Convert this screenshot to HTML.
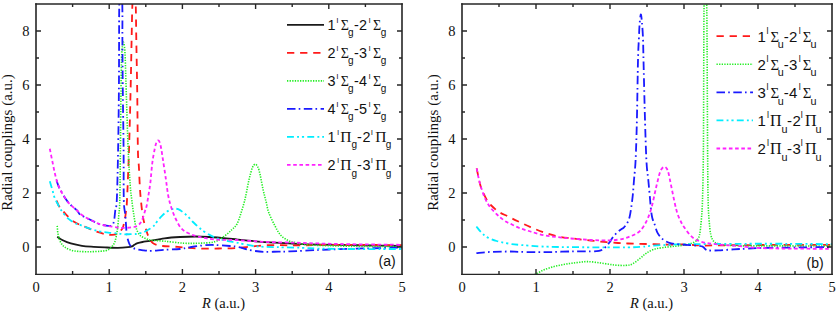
<!DOCTYPE html><html><head><meta charset="utf-8"><style>
html,body{margin:0;padding:0;background:#fff;width:838px;height:312px;overflow:hidden}
svg{display:block}
.tl{font-family:"Liberation Serif",serif;font-size:14.5px;fill:#111}
.al{font-family:"Liberation Serif",serif;font-size:14.5px;fill:#111}
.yl{font-family:"Liberation Serif",serif;font-size:15px;fill:#111}
.lg{font-family:"Liberation Sans",sans-serif;font-size:14.4px;fill:#111}
.sp{font-size:8px}.sb{font-size:10px}.gr{font-family:"Liberation Serif",serif;font-size:14px}.gp{font-family:"Liberation Serif",serif;font-size:15.5px}
.lgB{font-family:"Liberation Sans",sans-serif;font-size:15px;fill:#111}.spB{font-size:9px}.sbB{font-size:10.8px}.grB{font-family:"Liberation Serif",serif;font-size:14.8px}.gpB{font-family:"Liberation Serif",serif;font-size:16px}
.pl{font-family:"Liberation Sans",sans-serif;font-size:14px;fill:#111}
</style></head><body>
<svg width="838" height="312" viewBox="0 0 838 312">
<defs><clipPath id="ca"><rect x="36" y="4" width="366" height="270"/></clipPath>
<clipPath id="cb"><rect x="462" y="4" width="370" height="270"/></clipPath></defs>
<rect width="838" height="312" fill="#fff"/>
<path d="M57.20,236.70C58.13,237.28 60.53,239.08 62.80,240.20C65.07,241.32 67.60,242.47 70.80,243.40C74.00,244.33 78.18,245.23 82.00,245.80C85.82,246.37 89.87,246.53 93.70,246.80C97.53,247.07 100.98,247.23 105.00,247.40C109.02,247.57 113.97,247.83 117.80,247.80C121.63,247.77 125.63,247.43 128.00,247.20C130.37,246.97 130.93,246.80 132.00,246.40C133.07,246.00 133.47,245.33 134.40,244.80C135.33,244.27 136.25,243.67 137.60,243.20C138.95,242.73 140.43,242.40 142.50,242.00C144.57,241.60 146.33,241.42 150.00,240.80C153.67,240.18 159.50,238.93 164.50,238.30C169.50,237.67 174.85,237.30 180.00,237.00C185.15,236.70 190.60,236.50 195.40,236.50C200.20,236.50 203.67,236.70 208.80,237.00C213.93,237.30 221.38,237.87 226.20,238.30C231.02,238.73 232.87,239.10 237.70,239.60C242.53,240.10 249.07,240.78 255.20,241.30C261.33,241.82 267.70,242.28 274.50,242.70C281.30,243.12 288.42,243.48 296.00,243.80C303.58,244.12 311.00,244.38 320.00,244.60C329.00,244.82 340.00,244.93 350.00,245.10C360.00,245.27 371.33,245.45 380.00,245.60C388.67,245.75 398.33,245.93 402.00,246.00" stroke="#1a1a1a" stroke-width="1.8" stroke-dasharray="none" fill="none" clip-path="url(#ca)"/>
<path d="M56.70,200.60C57.05,201.47 57.75,204.07 58.80,205.80C59.85,207.53 61.53,209.27 63.00,211.00C64.47,212.73 65.77,214.40 67.60,216.20C69.43,218.00 71.60,220.20 74.00,221.80C76.40,223.40 79.93,224.87 82.00,225.80C84.07,226.73 84.17,226.48 86.40,227.40C88.63,228.32 92.20,230.17 95.40,231.30C98.60,232.43 102.83,233.60 105.60,234.20C108.37,234.80 109.97,235.00 112.00,234.90C114.03,234.80 116.40,234.25 117.80,233.60C119.20,232.95 119.53,232.07 120.40,231.00C121.27,229.93 122.25,229.23 123.00,227.20C123.75,225.17 124.40,221.42 124.90,218.80C125.40,216.18 125.65,214.63 126.00,211.50C126.35,208.37 126.50,210.25 127.00,200.00C127.50,189.75 128.40,168.33 129.00,150.00C129.60,131.67 130.17,108.33 130.60,90.00C131.03,71.67 131.30,54.33 131.60,40.00C131.90,25.67 132.00,14.83 132.40,4.00C132.80,-6.83 133.45,-25.00 134.00,-25.00C134.55,-25.00 135.32,-6.83 135.70,4.00C136.08,14.83 136.05,25.67 136.30,40.00C136.55,54.33 136.93,71.67 137.20,90.00C137.47,108.33 137.62,137.17 137.90,150.00C138.18,162.83 138.58,161.00 138.90,167.00C139.22,173.00 139.48,180.67 139.80,186.00C140.12,191.33 140.28,193.90 140.80,199.00C141.32,204.10 141.95,211.27 142.90,216.60C143.85,221.93 145.42,227.40 146.50,231.00C147.58,234.60 148.33,236.18 149.40,238.20C150.47,240.22 151.63,241.97 152.90,243.10C154.17,244.23 155.40,244.52 157.00,245.00C158.60,245.48 159.02,245.68 162.50,246.00C165.98,246.32 173.98,246.63 177.90,246.90C181.82,247.17 182.45,247.33 186.00,247.60C189.55,247.87 193.78,248.35 199.20,248.50C204.62,248.65 212.08,248.60 218.50,248.50C224.92,248.40 232.22,248.23 237.70,247.90C243.18,247.57 246.55,246.95 251.40,246.50C256.25,246.05 261.67,245.42 266.80,245.20C271.93,244.98 277.33,245.17 282.20,245.20C287.07,245.23 289.70,245.43 296.00,245.40C302.30,245.37 311.00,245.10 320.00,245.00C329.00,244.90 336.33,244.77 350.00,244.80C363.67,244.83 393.33,245.13 402.00,245.20" stroke="#ff1a1a" stroke-width="1.8" stroke-dasharray="7.3 5.8" fill="none" clip-path="url(#ca)"/>
<path d="M57.20,225.80C57.33,227.13 57.47,231.13 58.00,233.80C58.53,236.47 59.33,239.62 60.40,241.80C61.47,243.98 62.67,245.52 64.40,246.90C66.13,248.28 68.40,249.35 70.80,250.10C73.20,250.85 75.60,251.13 78.80,251.40C82.00,251.67 86.47,251.72 90.00,251.70C93.53,251.68 97.33,251.48 100.00,251.30C102.67,251.12 104.42,250.98 106.00,250.60C107.58,250.22 108.38,249.80 109.50,249.00C110.62,248.20 111.82,246.97 112.70,245.80C113.58,244.63 114.22,243.55 114.80,242.00C115.38,240.45 115.73,238.83 116.20,236.50C116.67,234.17 117.17,231.58 117.60,228.00C118.03,224.42 118.43,219.67 118.80,215.00C119.17,210.33 119.53,210.83 119.80,200.00C120.07,189.17 120.20,168.33 120.40,150.00C120.60,131.67 120.80,105.33 121.00,90.00C121.20,74.67 121.37,65.33 121.60,58.00C121.83,50.67 122.08,48.63 122.40,46.00C122.72,43.37 123.15,42.03 123.50,42.20C123.85,42.37 124.22,44.37 124.50,47.00C124.78,49.63 124.92,50.83 125.20,58.00C125.48,65.17 125.70,74.67 126.20,90.00C126.70,105.33 127.53,134.17 128.20,150.00C128.87,165.83 129.60,176.67 130.20,185.00C130.80,193.33 131.22,195.13 131.80,200.00C132.38,204.87 133.08,210.03 133.70,214.20C134.32,218.37 134.87,222.12 135.50,225.00C136.13,227.88 136.62,229.67 137.50,231.50C138.38,233.33 139.30,234.78 140.80,236.00C142.30,237.22 144.80,238.10 146.50,238.80C148.20,239.50 148.00,239.80 151.00,240.20C154.00,240.60 159.05,240.70 164.50,241.20C169.95,241.70 177.92,242.87 183.70,243.20C189.48,243.53 194.05,243.43 199.20,243.20C204.35,242.97 210.43,242.95 214.60,241.80C218.77,240.65 221.32,238.33 224.20,236.30C227.08,234.27 229.77,231.65 231.90,229.60C234.03,227.55 235.48,226.77 237.00,224.00C238.52,221.23 239.83,216.50 241.00,213.00C242.17,209.50 243.23,205.73 244.00,203.00C244.77,200.27 245.07,199.00 245.60,196.60C246.13,194.20 246.67,191.27 247.20,188.60C247.73,185.93 248.27,183.00 248.80,180.60C249.33,178.20 249.78,176.42 250.40,174.20C251.02,171.98 251.70,168.97 252.50,167.30C253.30,165.63 254.28,164.20 255.20,164.20C256.12,164.20 257.20,165.63 258.00,167.30C258.80,168.97 259.40,171.72 260.00,174.20C260.60,176.68 261.07,179.53 261.60,182.20C262.13,184.87 262.67,187.80 263.20,190.20C263.73,192.60 264.27,194.47 264.80,196.60C265.33,198.73 265.73,200.32 266.40,203.00C267.07,205.68 267.45,209.03 268.80,212.70C270.15,216.37 272.60,221.35 274.50,225.00C276.40,228.65 277.97,232.03 280.20,234.60C282.43,237.17 285.27,239.05 287.90,240.40C290.53,241.75 292.32,241.93 296.00,242.70C299.68,243.47 301.00,244.42 310.00,245.00C319.00,245.58 334.67,245.95 350.00,246.20C365.33,246.45 393.33,246.45 402.00,246.50" stroke="#22ee22" stroke-width="1.6" stroke-dasharray="1.3 1.3" fill="none" clip-path="url(#ca)"/>
<path d="M56.50,180.40C56.98,181.67 57.80,184.80 59.40,188.00C61.00,191.20 64.20,196.77 66.10,199.60C68.00,202.43 68.95,203.17 70.80,205.00C72.65,206.83 75.67,209.00 77.20,210.60C78.73,212.20 78.47,213.40 80.00,214.60C81.53,215.80 84.27,216.73 86.40,217.80C88.53,218.87 90.67,219.97 92.80,221.00C94.93,222.03 97.07,223.25 99.20,224.00C101.33,224.75 103.75,225.17 105.60,225.50C107.45,225.83 109.10,226.17 110.30,226.00C111.50,225.83 112.15,225.50 112.80,224.50C113.45,223.50 113.78,222.40 114.20,220.00C114.62,217.60 114.87,213.43 115.30,210.10C115.73,206.77 116.33,210.02 116.80,200.00C117.27,189.98 117.75,168.33 118.10,150.00C118.45,131.67 118.73,108.33 118.90,90.00C119.07,71.67 119.03,54.33 119.10,40.00C119.17,25.67 119.02,17.33 119.30,4.00C119.58,-9.33 120.30,-40.00 120.80,-40.00C121.30,-40.00 122.03,-9.33 122.30,4.00C122.57,17.33 122.32,25.67 122.40,40.00C122.48,54.33 122.60,71.67 122.80,90.00C123.00,108.33 123.43,131.67 123.60,150.00C123.77,168.33 123.52,189.17 123.80,200.00C124.08,210.83 124.90,210.37 125.30,215.00C125.70,219.63 125.95,224.50 126.20,227.80C126.45,231.10 126.50,232.77 126.80,234.80C127.10,236.83 127.53,238.40 128.00,240.00C128.47,241.60 129.00,243.28 129.60,244.40C130.20,245.52 130.53,245.90 131.60,246.70C132.67,247.50 133.93,248.58 136.00,249.20C138.07,249.82 141.50,250.13 144.00,250.40C146.50,250.67 147.58,250.90 151.00,250.80C154.42,250.70 159.67,250.10 164.50,249.80C169.33,249.50 175.82,249.42 180.00,249.00C184.18,248.58 185.75,247.90 189.60,247.30C193.45,246.70 198.93,245.78 203.10,245.40C207.27,245.02 210.12,244.90 214.60,245.00C219.08,245.10 226.15,245.70 230.00,246.00C233.85,246.30 235.10,246.30 237.70,246.80C240.30,247.30 242.68,248.30 245.60,249.00C248.52,249.70 252.00,250.52 255.20,251.00C258.40,251.48 260.95,251.80 264.80,251.90C268.65,252.00 274.10,251.68 278.30,251.60C282.50,251.52 283.05,251.68 290.00,251.40C296.95,251.12 310.00,250.33 320.00,249.90C330.00,249.47 336.33,249.18 350.00,248.80C363.67,248.42 393.33,247.80 402.00,247.60" stroke="#1a1aff" stroke-width="1.8" stroke-dasharray="8.5 3.2 1.6 3.5" fill="none" clip-path="url(#ca)"/>
<path d="M49.80,181.30C50.28,182.92 51.90,188.27 52.70,191.00C53.50,193.73 53.72,195.45 54.60,197.70C55.48,199.95 56.77,202.22 58.00,204.50C59.23,206.78 60.13,208.92 62.00,211.40C63.87,213.88 66.67,217.27 69.20,219.40C71.73,221.53 75.40,223.28 77.20,224.20C79.00,225.12 78.13,224.23 80.00,224.90C81.87,225.57 85.20,227.13 88.40,228.20C91.60,229.27 95.90,230.57 99.20,231.30C102.50,232.03 104.98,232.23 108.20,232.60C111.42,232.97 116.00,233.22 118.50,233.50C121.00,233.78 121.18,234.18 123.20,234.30C125.22,234.42 128.47,234.25 130.60,234.20C132.73,234.15 134.57,234.17 136.00,234.00C137.43,233.83 138.05,233.43 139.20,233.20C140.35,232.97 141.33,233.20 142.90,232.60C144.47,232.00 146.68,230.82 148.60,229.60C150.52,228.38 153.00,226.63 154.40,225.30C155.80,223.97 155.70,223.22 157.00,221.60C158.30,219.98 160.53,217.27 162.20,215.60C163.87,213.93 165.40,212.67 167.00,211.60C168.60,210.53 170.47,209.68 171.80,209.20C173.13,208.72 173.93,208.70 175.00,208.70C176.07,208.70 177.00,208.72 178.20,209.20C179.40,209.68 180.60,210.40 182.20,211.60C183.80,212.80 186.08,214.75 187.80,216.40C189.52,218.05 189.95,219.10 192.50,221.50C195.05,223.90 199.42,228.17 203.10,230.80C206.78,233.43 210.75,235.63 214.60,237.30C218.45,238.97 222.35,239.88 226.20,240.80C230.05,241.72 232.87,241.90 237.70,242.80C242.53,243.70 249.07,245.48 255.20,246.20C261.33,246.92 267.70,246.87 274.50,247.10C281.30,247.33 288.42,247.35 296.00,247.60C303.58,247.85 311.00,248.37 320.00,248.60C329.00,248.83 336.33,248.93 350.00,249.00C363.67,249.07 393.33,249.00 402.00,249.00" stroke="#00eeff" stroke-width="1.8" stroke-dasharray="6.9 3.2 1.9 2.9 2.2 3.2" fill="none" clip-path="url(#ca)"/>
<path d="M49.80,148.70C50.28,151.08 51.75,158.45 52.70,163.00C53.65,167.55 54.38,171.83 55.50,176.00C56.62,180.17 57.63,184.07 59.40,188.00C61.17,191.93 64.20,196.77 66.10,199.60C68.00,202.43 68.95,203.17 70.80,205.00C72.65,206.83 75.67,209.17 77.20,210.60C78.73,212.03 78.47,212.40 80.00,213.60C81.53,214.80 84.27,216.57 86.40,217.80C88.53,219.03 90.67,219.97 92.80,221.00C94.93,222.03 97.07,223.25 99.20,224.00C101.33,224.75 102.50,224.92 105.60,225.50C108.70,226.08 114.48,227.12 117.80,227.50C121.12,227.88 123.13,227.83 125.50,227.80C127.87,227.77 130.28,227.52 132.00,227.30C133.72,227.08 134.63,226.97 135.80,226.50C136.97,226.03 138.18,225.17 139.00,224.50C139.82,223.83 140.05,223.58 140.70,222.50C141.35,221.42 142.18,219.92 142.90,218.00C143.62,216.08 144.40,212.92 145.00,211.00C145.60,209.08 145.92,209.17 146.50,206.50C147.08,203.83 147.85,199.03 148.50,195.00C149.15,190.97 149.77,187.63 150.40,182.30C151.03,176.97 151.57,168.63 152.30,163.00C153.03,157.37 154.10,151.95 154.80,148.50C155.50,145.05 155.95,143.65 156.50,142.30C157.05,140.95 157.57,140.40 158.10,140.40C158.63,140.40 159.18,140.95 159.70,142.30C160.22,143.65 160.65,145.55 161.20,148.50C161.75,151.45 162.23,155.00 163.00,160.00C163.77,165.00 164.95,172.67 165.80,178.50C166.65,184.33 167.23,190.33 168.10,195.00C168.97,199.67 169.80,202.67 171.00,206.50C172.20,210.33 173.63,214.42 175.30,218.00C176.97,221.58 178.80,225.45 181.00,228.00C183.20,230.55 185.47,231.83 188.50,233.30C191.53,234.77 194.85,235.77 199.20,236.80C203.55,237.83 208.47,238.97 214.60,239.50C220.73,240.03 227.63,239.60 236.00,240.00C244.37,240.40 254.80,241.45 264.80,241.90C274.80,242.35 286.80,242.43 296.00,242.70C305.20,242.97 311.00,243.25 320.00,243.50C329.00,243.75 336.33,243.98 350.00,244.20C363.67,244.42 393.33,244.70 402.00,244.80" stroke="#ff22ff" stroke-width="1.8" stroke-dasharray="3.6 2.6" fill="none" clip-path="url(#ca)"/>
<path d="M476.70,168.40C477.05,170.13 478.20,176.03 478.80,178.80C479.40,181.57 479.77,183.13 480.30,185.00C480.83,186.87 480.88,187.47 482.00,190.00C483.12,192.53 485.53,197.70 487.00,200.20C488.47,202.70 488.88,203.08 490.80,205.00C492.72,206.92 495.60,209.78 498.50,211.70C501.40,213.62 504.98,214.92 508.20,216.50C511.42,218.08 514.08,219.43 517.80,221.20C521.52,222.97 526.13,225.22 530.50,227.10C534.87,228.98 539.52,230.97 544.00,232.50C548.48,234.03 552.90,235.33 557.40,236.30C561.90,237.27 566.65,237.72 571.00,238.30C575.35,238.88 579.50,239.35 583.50,239.80C587.50,240.25 591.15,240.60 595.00,241.00C598.85,241.40 602.77,241.87 606.60,242.20C610.43,242.53 614.43,242.78 618.00,243.00C621.57,243.22 624.33,243.37 628.00,243.50C631.67,243.63 634.08,243.63 640.00,243.80C645.92,243.97 656.00,244.38 663.50,244.50C671.00,244.62 678.40,244.33 685.00,244.50C691.60,244.67 695.93,245.38 703.10,245.50C710.27,245.62 718.52,245.28 728.00,245.20C737.48,245.12 748.00,245.05 760.00,245.00C772.00,244.95 788.00,244.93 800.00,244.90C812.00,244.87 826.67,244.82 832.00,244.80" stroke="#ff1a1a" stroke-width="1.8" stroke-dasharray="7.3 5.8" fill="none" clip-path="url(#cb)"/>
<path d="M532.50,276.50C532.92,276.13 533.87,275.02 535.00,274.30C536.13,273.58 537.70,272.98 539.30,272.20C540.90,271.42 542.32,270.50 544.60,269.60C546.88,268.70 550.22,267.57 553.00,266.80C555.78,266.03 558.52,265.55 561.30,265.00C564.08,264.45 566.92,263.92 569.70,263.50C572.48,263.08 575.05,262.82 578.00,262.50C580.95,262.18 583.60,261.52 587.40,261.60C591.20,261.68 596.32,262.43 600.80,263.00C605.28,263.57 610.13,264.60 614.30,265.00C618.47,265.40 622.73,265.60 625.80,265.40C628.87,265.20 630.27,265.02 632.70,263.80C635.13,262.58 638.15,259.85 640.40,258.10C642.65,256.35 643.97,254.75 646.20,253.30C648.43,251.85 650.92,250.37 653.80,249.40C656.68,248.43 659.97,248.03 663.50,247.50C667.03,246.97 671.42,246.62 675.00,246.20C678.58,245.78 682.25,245.48 685.00,245.00C687.75,244.52 689.58,244.03 691.50,243.30C693.42,242.57 695.17,241.98 696.50,240.60C697.83,239.22 698.70,238.43 699.50,235.00C700.30,231.57 700.80,225.83 701.30,220.00C701.80,214.17 702.15,211.67 702.50,200.00C702.85,188.33 703.18,175.00 703.40,150.00C703.62,125.00 703.68,74.33 703.80,50.00C703.92,25.67 703.83,19.00 704.10,4.00C704.37,-11.00 704.97,-40.00 705.40,-40.00C705.83,-40.00 706.42,-11.00 706.70,4.00C706.98,19.00 706.95,25.67 707.10,50.00C707.25,74.33 707.43,125.00 707.60,150.00C707.77,175.00 707.85,188.33 708.10,200.00C708.35,211.67 708.65,214.23 709.10,220.00C709.55,225.77 710.03,231.05 710.80,234.60C711.57,238.15 712.42,239.77 713.70,241.30C714.98,242.83 716.12,243.15 718.50,243.80C720.88,244.45 724.42,244.87 728.00,245.20C731.58,245.53 731.33,245.68 740.00,245.80C748.67,245.92 764.67,245.87 780.00,245.90C795.33,245.93 823.33,245.98 832.00,246.00" stroke="#22ee22" stroke-width="1.6" stroke-dasharray="1.3 1.3" fill="none" clip-path="url(#cb)"/>
<path d="M476.40,226.50C477.20,227.47 479.43,230.53 481.20,232.30C482.97,234.07 484.43,235.65 487.00,237.10C489.57,238.55 493.07,239.93 496.60,241.00C500.13,242.07 504.35,242.85 508.20,243.50C512.05,244.15 513.73,244.38 519.70,244.90C525.67,245.42 534.45,246.22 544.00,246.60C553.55,246.98 562.33,247.08 577.00,247.20C591.67,247.32 619.20,247.57 632.00,247.30C644.80,247.03 646.95,246.05 653.80,245.60C660.65,245.15 667.90,244.83 673.10,244.60C678.30,244.37 673.85,244.33 685.00,244.20C696.15,244.07 722.50,243.87 740.00,243.80C757.50,243.73 774.67,243.73 790.00,243.80C805.33,243.87 825.00,244.13 832.00,244.20" stroke="#00eeff" stroke-width="1.8" stroke-dasharray="6.9 3.2 1.9 2.9 2.2 3.2" fill="none" clip-path="url(#cb)"/>
<path d="M476.40,253.10C478.80,252.90 485.18,252.17 490.80,251.90C496.42,251.63 505.28,251.50 510.10,251.50C514.92,251.50 514.05,251.78 519.70,251.90C525.35,252.02 536.95,252.23 544.00,252.20C551.05,252.17 556.50,251.85 562.00,251.70C567.50,251.55 572.13,251.35 577.00,251.30C581.87,251.25 587.53,251.48 591.20,251.40C594.87,251.32 597.03,251.17 599.00,250.80C600.97,250.43 601.75,250.00 603.00,249.20C604.25,248.40 605.40,247.15 606.50,246.00C607.60,244.85 608.42,243.92 609.60,242.30C610.78,240.68 612.00,238.22 613.60,236.30C615.20,234.38 617.47,232.30 619.20,230.80C620.93,229.30 622.62,228.68 624.00,227.30C625.38,225.92 626.57,224.22 627.50,222.50C628.43,220.78 628.98,219.45 629.60,217.00C630.22,214.55 630.67,211.47 631.20,207.80C631.73,204.13 632.33,199.63 632.80,195.00C633.27,190.37 633.53,185.83 634.00,180.00C634.47,174.17 635.12,170.00 635.60,160.00C636.08,150.00 636.50,136.67 636.90,120.00C637.30,103.33 637.67,73.58 638.00,60.00C638.33,46.42 638.63,44.50 638.90,38.50C639.17,32.50 639.28,28.02 639.60,24.00C639.92,19.98 640.40,14.57 640.80,14.40C641.20,14.23 641.63,18.98 642.00,23.00C642.37,27.02 642.75,32.33 643.00,38.50C643.25,44.67 643.17,46.42 643.50,60.00C643.83,73.58 644.50,103.02 645.00,120.00C645.50,136.98 645.95,151.90 646.50,161.90C647.05,171.90 647.72,173.90 648.30,180.00C648.88,186.10 649.55,193.50 650.00,198.50C650.45,203.50 650.62,206.75 651.00,210.00C651.38,213.25 651.72,215.67 652.30,218.00C652.88,220.33 653.60,221.48 654.50,224.00C655.40,226.52 656.20,230.47 657.70,233.10C659.20,235.73 661.25,238.08 663.50,239.80C665.75,241.52 668.00,242.60 671.20,243.40C674.40,244.20 678.03,244.20 682.70,244.60C687.37,245.00 695.80,245.40 699.20,245.80C702.60,246.20 701.88,246.30 703.10,247.00C704.32,247.70 705.35,249.42 706.50,250.00C707.65,250.58 708.00,250.43 710.00,250.50C712.00,250.57 715.17,250.55 718.50,250.40C721.83,250.25 726.42,249.83 730.00,249.60C733.58,249.37 735.00,249.27 740.00,249.00C745.00,248.73 750.00,248.27 760.00,248.00C770.00,247.73 788.00,247.57 800.00,247.40C812.00,247.23 826.67,247.07 832.00,247.00" stroke="#1a1aff" stroke-width="1.8" stroke-dasharray="8.5 3.2 1.6 3.5" fill="none" clip-path="url(#cb)"/>
<path d="M476.70,168.40C477.05,170.13 478.05,175.58 478.80,178.80C479.55,182.02 480.15,184.42 481.20,187.70C482.25,190.98 483.65,195.30 485.10,198.50C486.55,201.70 487.98,204.28 489.90,206.90C491.82,209.52 494.75,212.35 496.60,214.20C498.45,216.05 499.40,216.73 501.00,218.00C502.60,219.27 504.37,220.72 506.20,221.80C508.03,222.88 509.75,223.45 512.00,224.50C514.25,225.55 516.62,226.93 519.70,228.10C522.78,229.27 526.45,230.30 530.50,231.50C534.55,232.70 539.52,234.37 544.00,235.30C548.48,236.23 552.90,236.57 557.40,237.10C561.90,237.63 565.37,238.02 571.00,238.50C576.63,238.98 585.03,239.68 591.20,240.00C597.37,240.32 603.53,240.45 608.00,240.40C612.47,240.35 615.17,240.07 618.00,239.70C620.83,239.33 623.00,238.73 625.00,238.20C627.00,237.67 628.25,237.20 630.00,236.50C631.75,235.80 633.83,234.92 635.50,234.00C637.17,233.08 638.55,232.43 640.00,231.00C641.45,229.57 642.85,227.62 644.20,225.40C645.55,223.18 646.82,220.90 648.10,217.70C649.38,214.50 650.62,211.02 651.90,206.20C653.18,201.38 654.52,194.25 655.80,188.80C657.08,183.35 658.57,176.88 659.60,173.50C660.63,170.12 661.20,169.63 662.00,168.50C662.80,167.37 663.62,166.70 664.40,166.70C665.18,166.70 666.00,167.37 666.70,168.50C667.40,169.63 667.85,170.58 668.60,173.50C669.35,176.42 670.13,180.88 671.20,186.00C672.27,191.12 673.93,199.53 675.00,204.20C676.07,208.87 676.63,211.12 677.60,214.00C678.57,216.88 679.73,219.33 680.80,221.50C681.87,223.67 682.53,224.82 684.00,227.00C685.47,229.18 687.70,232.53 689.60,234.60C691.50,236.67 693.15,238.12 695.40,239.40C697.65,240.68 700.22,241.57 703.10,242.30C705.98,243.03 708.85,243.32 712.70,243.80C716.55,244.28 721.65,244.80 726.20,245.20C730.75,245.60 734.37,245.73 740.00,246.20C745.63,246.67 751.67,247.60 760.00,248.00C768.33,248.40 778.00,248.47 790.00,248.60C802.00,248.73 825.00,248.77 832.00,248.80" stroke="#ff22ff" stroke-width="1.8" stroke-dasharray="3.6 2.6" fill="none" clip-path="url(#cb)"/>
<path d="M72.60,274v-3M72.60,4v3M109.20,274v-5M109.20,4v5M145.80,274v-3M145.80,4v3M182.40,274v-5M182.40,4v5M219.00,274v-3M219.00,4v3M255.60,274v-5M255.60,4v5M292.20,274v-3M292.20,4v3M328.80,274v-5M328.80,4v5M365.40,274v-3M365.40,4v3M36,247.00h5M402,247.00h-5M36,220.00h3M402,220.00h-3M36,193.00h5M402,193.00h-5M36,166.00h3M402,166.00h-3M36,139.00h5M402,139.00h-5M36,112.00h3M402,112.00h-3M36,85.00h5M402,85.00h-5M36,58.00h3M402,58.00h-3M36,31.00h5M402,31.00h-5" stroke="#262626" stroke-width="1.4" fill="none"/>
<path d="M36,3.25V274.9M402,3.25V274.9" stroke="#262626" stroke-width="1.6" fill="none"/>
<path d="M35.2,4H402.8" stroke="#262626" stroke-width="1.5" fill="none"/>
<path d="M35.2,274.3H402.8" stroke="#262626" stroke-width="1.3" fill="none"/>
<text x="36.00" y="292" class="tl" text-anchor="middle">0</text>
<text x="109.20" y="292" class="tl" text-anchor="middle">1</text>
<text x="182.40" y="292" class="tl" text-anchor="middle">2</text>
<text x="255.60" y="292" class="tl" text-anchor="middle">3</text>
<text x="328.80" y="292" class="tl" text-anchor="middle">4</text>
<text x="402.00" y="292" class="tl" text-anchor="middle">5</text>
<text x="29.5" y="252.00" class="tl" text-anchor="end">0</text>
<text x="29.5" y="198.00" class="tl" text-anchor="end">2</text>
<text x="29.5" y="144.00" class="tl" text-anchor="end">4</text>
<text x="29.5" y="90.00" class="tl" text-anchor="end">6</text>
<text x="29.5" y="36.00" class="tl" text-anchor="end">8</text>
<path d="M499.00,274v-3M499.00,4v3M536.00,274v-5M536.00,4v5M573.00,274v-3M573.00,4v3M610.00,274v-5M610.00,4v5M647.00,274v-3M647.00,4v3M684.00,274v-5M684.00,4v5M721.00,274v-3M721.00,4v3M758.00,274v-5M758.00,4v5M795.00,274v-3M795.00,4v3M462,247.00h5M832,247.00h-5M462,220.00h3M832,220.00h-3M462,193.00h5M832,193.00h-5M462,166.00h3M832,166.00h-3M462,139.00h5M832,139.00h-5M462,112.00h3M832,112.00h-3M462,85.00h5M832,85.00h-5M462,58.00h3M832,58.00h-3M462,31.00h5M832,31.00h-5" stroke="#262626" stroke-width="1.4" fill="none"/>
<path d="M462,3.25V274.9M832,3.25V274.9" stroke="#262626" stroke-width="1.6" fill="none"/>
<path d="M461.2,4H832.8" stroke="#262626" stroke-width="1.5" fill="none"/>
<path d="M461.2,274.3H832.8" stroke="#262626" stroke-width="1.3" fill="none"/>
<text x="462.00" y="292" class="tl" text-anchor="middle">0</text>
<text x="536.00" y="292" class="tl" text-anchor="middle">1</text>
<text x="610.00" y="292" class="tl" text-anchor="middle">2</text>
<text x="684.00" y="292" class="tl" text-anchor="middle">3</text>
<text x="758.00" y="292" class="tl" text-anchor="middle">4</text>
<text x="832.00" y="292" class="tl" text-anchor="middle">5</text>
<text x="455.5" y="252.00" class="tl" text-anchor="end">0</text>
<text x="455.5" y="198.00" class="tl" text-anchor="end">2</text>
<text x="455.5" y="144.00" class="tl" text-anchor="end">4</text>
<text x="455.5" y="90.00" class="tl" text-anchor="end">6</text>
<text x="455.5" y="36.00" class="tl" text-anchor="end">8</text>
<text class="yl" transform="translate(11.5,142.5) rotate(-90)" text-anchor="middle">Radial couplings (a.u.)</text>
<text class="yl" transform="translate(437.6,142.5) rotate(-90)" text-anchor="middle">Radial couplings (a.u.)</text>
<text class="al" x="202" y="307.5"><tspan font-style="italic">R</tspan> (a.u.)</text>
<text class="al" x="630" y="307.5"><tspan font-style="italic">R</tspan> (a.u.)</text>
<line x1="287" y1="24.80" x2="324" y2="24.80" stroke="#1a1a1a" stroke-width="1.8" stroke-dasharray="none"/>
<text y="29.90" class="lg"><tspan x="327.50">1</tspan><tspan class="sp" x="336.50" dy="-7.2">l</tspan><tspan class="gr" x="340.70" dy="7.2">Σ</tspan><tspan class="sb" x="347.90" dy="6.5">g</tspan><tspan x="353.90" dy="-6.5">-</tspan><tspan x="359.10">2</tspan><tspan class="sp" x="368.80" dy="-7.2">l</tspan><tspan class="gr" x="372.90" dy="7.2">Σ</tspan><tspan class="sb" x="380.70" dy="6.5">g</tspan></text>
<line x1="287" y1="52.82" x2="324" y2="52.82" stroke="#ff1a1a" stroke-width="1.8" stroke-dasharray="7.3 5.8"/>
<text y="57.92" class="lg"><tspan x="327.50">2</tspan><tspan class="sp" x="336.50" dy="-7.2">l</tspan><tspan class="gr" x="340.70" dy="7.2">Σ</tspan><tspan class="sb" x="347.90" dy="6.5">g</tspan><tspan x="353.90" dy="-6.5">-</tspan><tspan x="359.10">3</tspan><tspan class="sp" x="368.80" dy="-7.2">l</tspan><tspan class="gr" x="372.90" dy="7.2">Σ</tspan><tspan class="sb" x="380.70" dy="6.5">g</tspan></text>
<line x1="287" y1="80.84" x2="324" y2="80.84" stroke="#22ee22" stroke-width="1.6" stroke-dasharray="1.3 1.3"/>
<text y="85.94" class="lg"><tspan x="327.50">3</tspan><tspan class="sp" x="336.50" dy="-7.2">l</tspan><tspan class="gr" x="340.70" dy="7.2">Σ</tspan><tspan class="sb" x="347.90" dy="6.5">g</tspan><tspan x="353.90" dy="-6.5">-</tspan><tspan x="359.10">4</tspan><tspan class="sp" x="368.80" dy="-7.2">l</tspan><tspan class="gr" x="372.90" dy="7.2">Σ</tspan><tspan class="sb" x="380.70" dy="6.5">g</tspan></text>
<line x1="287" y1="108.86" x2="324" y2="108.86" stroke="#1a1aff" stroke-width="1.8" stroke-dasharray="8.5 3.2 1.6 3.5"/>
<text y="113.96" class="lg"><tspan x="327.50">4</tspan><tspan class="sp" x="336.50" dy="-7.2">l</tspan><tspan class="gr" x="340.70" dy="7.2">Σ</tspan><tspan class="sb" x="347.90" dy="6.5">g</tspan><tspan x="353.90" dy="-6.5">-</tspan><tspan x="359.10">5</tspan><tspan class="sp" x="368.80" dy="-7.2">l</tspan><tspan class="gr" x="372.90" dy="7.2">Σ</tspan><tspan class="sb" x="380.70" dy="6.5">g</tspan></text>
<line x1="287" y1="136.88" x2="324" y2="136.88" stroke="#00eeff" stroke-width="1.8" stroke-dasharray="6.9 3.2 1.9 2.9 2.2 3.2"/>
<text y="141.98" class="lg"><tspan x="327.50">1</tspan><tspan class="sp" x="337.20" dy="-7.2">l</tspan><tspan class="gp" x="340.20" dy="7.2">Π</tspan><tspan class="sb" x="351.60" dy="6.5">g</tspan><tspan x="357.00" dy="-6.5">-</tspan><tspan x="362.60">2</tspan><tspan class="sp" x="370.90" dy="-7.2">l</tspan><tspan class="gp" x="375.20" dy="7.2">Π</tspan><tspan class="sb" x="385.70" dy="6.5">g</tspan></text>
<line x1="287" y1="164.90" x2="324" y2="164.90" stroke="#ff22ff" stroke-width="1.8" stroke-dasharray="3.6 2.6"/>
<text y="170.00" class="lg"><tspan x="327.50">2</tspan><tspan class="sp" x="337.20" dy="-7.2">l</tspan><tspan class="gp" x="340.20" dy="7.2">Π</tspan><tspan class="sb" x="351.60" dy="6.5">g</tspan><tspan x="357.00" dy="-6.5">-</tspan><tspan x="362.60">3</tspan><tspan class="sp" x="370.90" dy="-7.2">l</tspan><tspan class="gp" x="375.20" dy="7.2">Π</tspan><tspan class="sb" x="385.70" dy="6.5">g</tspan></text>
<line x1="716.5" y1="36.20" x2="753" y2="36.20" stroke="#ff1a1a" stroke-width="1.8" stroke-dasharray="7.3 5.8"/>
<text y="42.00" class="lgB"><tspan x="757.40">1</tspan><tspan class="spB" x="766.40" dy="-8.0">l</tspan><tspan class="grB" x="770.60" dy="8.0">Σ</tspan><tspan class="sbB" x="777.80" dy="6.4">u</tspan><tspan x="783.80" dy="-6.4">-</tspan><tspan x="789.00">2</tspan><tspan class="spB" x="798.70" dy="-8.0">l</tspan><tspan class="grB" x="802.80" dy="8.0">Σ</tspan><tspan class="sbB" x="810.60" dy="6.4">u</tspan></text>
<line x1="716.5" y1="64.27" x2="753" y2="64.27" stroke="#22ee22" stroke-width="1.6" stroke-dasharray="1.3 1.3"/>
<text y="70.07" class="lgB"><tspan x="757.40">2</tspan><tspan class="spB" x="766.40" dy="-8.0">l</tspan><tspan class="grB" x="770.60" dy="8.0">Σ</tspan><tspan class="sbB" x="777.80" dy="6.4">u</tspan><tspan x="783.80" dy="-6.4">-</tspan><tspan x="789.00">3</tspan><tspan class="spB" x="798.70" dy="-8.0">l</tspan><tspan class="grB" x="802.80" dy="8.0">Σ</tspan><tspan class="sbB" x="810.60" dy="6.4">u</tspan></text>
<line x1="716.5" y1="92.34" x2="753" y2="92.34" stroke="#1a1aff" stroke-width="1.8" stroke-dasharray="8.5 3.2 1.6 3.5"/>
<text y="98.14" class="lgB"><tspan x="757.40">3</tspan><tspan class="spB" x="766.40" dy="-8.0">l</tspan><tspan class="grB" x="770.60" dy="8.0">Σ</tspan><tspan class="sbB" x="777.80" dy="6.4">u</tspan><tspan x="783.80" dy="-6.4">-</tspan><tspan x="789.00">4</tspan><tspan class="spB" x="798.70" dy="-8.0">l</tspan><tspan class="grB" x="802.80" dy="8.0">Σ</tspan><tspan class="sbB" x="810.60" dy="6.4">u</tspan></text>
<line x1="716.5" y1="120.41" x2="753" y2="120.41" stroke="#00eeff" stroke-width="1.8" stroke-dasharray="6.9 3.2 1.9 2.9 2.2 3.2"/>
<text y="126.21" class="lgB"><tspan x="757.40">1</tspan><tspan class="spB" x="767.10" dy="-8.0">l</tspan><tspan class="gpB" x="770.10" dy="8.0">Π</tspan><tspan class="sbB" x="781.50" dy="6.4">u</tspan><tspan x="786.90" dy="-6.4">-</tspan><tspan x="792.50">2</tspan><tspan class="spB" x="800.80" dy="-8.0">l</tspan><tspan class="gpB" x="805.10" dy="8.0">Π</tspan><tspan class="sbB" x="815.60" dy="6.4">u</tspan></text>
<line x1="716.5" y1="148.48" x2="753" y2="148.48" stroke="#ff22ff" stroke-width="1.8" stroke-dasharray="3.6 2.6"/>
<text y="154.28" class="lgB"><tspan x="757.40">2</tspan><tspan class="spB" x="767.10" dy="-8.0">l</tspan><tspan class="gpB" x="770.10" dy="8.0">Π</tspan><tspan class="sbB" x="781.50" dy="6.4">u</tspan><tspan x="786.90" dy="-6.4">-</tspan><tspan x="792.50">3</tspan><tspan class="spB" x="800.80" dy="-8.0">l</tspan><tspan class="gpB" x="805.10" dy="8.0">Π</tspan><tspan class="sbB" x="815.60" dy="6.4">u</tspan></text>
<text class="pl" x="378.5" y="266">(a)</text>
<text class="pl" x="806.5" y="268">(b)</text>
</svg></body></html>
